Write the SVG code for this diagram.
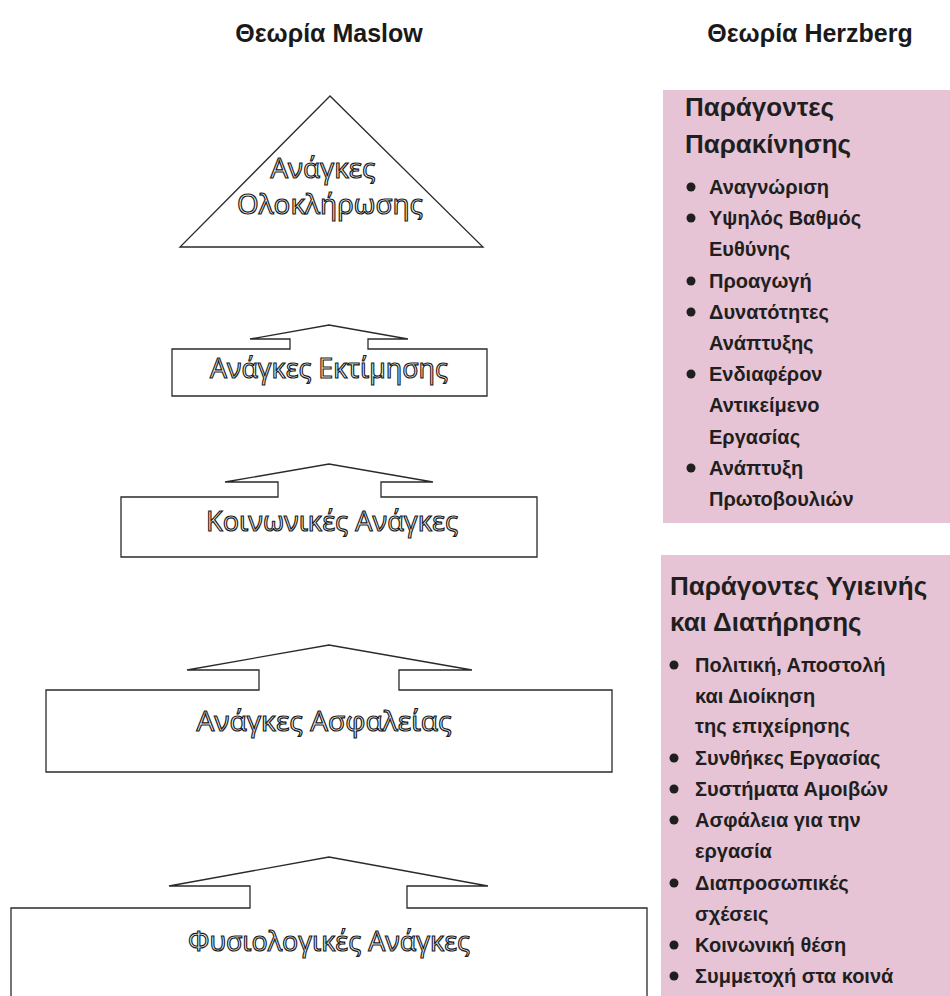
<svg xmlns="http://www.w3.org/2000/svg" width="950" height="996" viewBox="0 0 950 996">
<style>
.shape{fill:#ffffff;stroke:#2a2a2a;stroke-width:1.3;stroke-linejoin:miter}
.ol{font-family:"Open Sans","DejaVu Sans",sans-serif;font-size:28px;fill:#ffffff;stroke:#1a1a1a;stroke-width:1.2;text-anchor:middle}
.hd{font-family:"Liberation Sans",Arial,sans-serif;font-weight:bold;font-size:25px;fill:#1a1a1a;text-anchor:middle}
.pink{fill:#e6c4d5}
.ttl{font-family:"Liberation Sans",Arial,sans-serif;font-weight:bold;font-size:26px;fill:#1f1f1f}
.it{font-family:"Liberation Sans",Arial,sans-serif;font-weight:bold;font-size:20px;fill:#1f1f1f}
.dot{fill:#1f1f1f}
</style>
<rect width="950" height="996" fill="#ffffff"/>
<g id="headings">
<text class="hd" x="329" y="42">Θεωρία Maslow</text>
<text class="hd" x="810" y="42">Θεωρία Herzberg</text>
</g>
<g id="connectors"></g>
<g id="self-actualization">
<path class="shape" d="M330,96 L180,247 H483 Z"/>
<text class="ol" x="323" y="178" textLength="105" lengthAdjust="spacingAndGlyphs">Ανάγκες</text>
<text class="ol" x="330" y="214" textLength="186" lengthAdjust="spacingAndGlyphs">Ολοκλήρωσης</text>
</g>
<g id="esteem">
<path class="shape" d="M172,396 V349 H290 V339 H250 L329,325 L408,339 H368 V349 H487 V396 Z"/>
<text class="ol" x="329" y="378" textLength="238" lengthAdjust="spacingAndGlyphs">Ανάγκες Εκτίμησης</text>
</g>
<g id="social">
<path class="shape" d="M121,557 V497 H278 V482 H225 L329,464 L433,482 H381 V497 H537 V557 Z"/>
<text class="ol" x="332" y="531" textLength="252" lengthAdjust="spacingAndGlyphs">Κοινωνικές Ανάγκες</text>
</g>
<g id="safety">
<path class="shape" d="M46,772 V690 H259 V670 H187 L329,645 L472,670 H399 V690 H612 V772 Z"/>
<text class="ol" x="324" y="731" textLength="255" lengthAdjust="spacingAndGlyphs">Ανάγκες Ασφαλείας</text>
</g>
<g id="physiological">
<path class="shape" d="M11,1010 V908 H250 V886 H169 L329,857 L488,886 H407 V908 H647 V1010 Z"/>
<text class="ol" x="329" y="951" textLength="282" lengthAdjust="spacingAndGlyphs">Φυσιολογικές Ανάγκες</text>
</g>
<g id="motivators">
<rect class="pink" x="663" y="90" width="287" height="433"/>
<text class="ttl" x="685" y="116">Παράγοντες</text>
<text class="ttl" x="685" y="153">Παρακίνησης</text>
<circle class="dot" cx="691" cy="187" r="4.5"/>
<text class="it" x="709" y="194">Αναγνώριση</text>
<circle class="dot" cx="691" cy="218" r="4.5"/>
<text class="it" x="709" y="225">Υψηλός Βαθμός</text>
<text class="it" x="709" y="256">Ευθύνης</text>
<circle class="dot" cx="691" cy="281" r="4.5"/>
<text class="it" x="709" y="288">Προαγωγή</text>
<circle class="dot" cx="691" cy="312" r="4.5"/>
<text class="it" x="709" y="319">Δυνατότητες</text>
<text class="it" x="709" y="350">Ανάπτυξης</text>
<circle class="dot" cx="691" cy="374" r="4.5"/>
<text class="it" x="709" y="381">Ενδιαφέρον</text>
<text class="it" x="709" y="412">Αντικείμενο</text>
<text class="it" x="709" y="444">Εργασίας</text>
<circle class="dot" cx="691" cy="468" r="4.5"/>
<text class="it" x="709" y="475">Ανάπτυξη</text>
<text class="it" x="709" y="506">Πρωτοβουλιών</text>
</g>
<g id="hygiene">
<rect class="pink" x="661" y="555" width="289" height="441"/>
<text class="ttl" x="670" y="595">Παράγοντες Υγιεινής</text>
<text class="ttl" x="670" y="631">και Διατήρησης</text>
<circle class="dot" cx="674" cy="665" r="4.5"/>
<text class="it" x="695" y="672">Πολιτική, Αποστολή</text>
<text class="it" x="695" y="703">και Διοίκηση</text>
<text class="it" x="695" y="733">της επιχείρησης</text>
<circle class="dot" cx="674" cy="758" r="4.5"/>
<text class="it" x="695" y="765">Συνθήκες Εργασίας</text>
<circle class="dot" cx="674" cy="789" r="4.5"/>
<text class="it" x="695" y="796">Συστήματα Αμοιβών</text>
<circle class="dot" cx="674" cy="820" r="4.5"/>
<text class="it" x="695" y="827">Ασφάλεια για την</text>
<text class="it" x="695" y="858">εργασία</text>
<circle class="dot" cx="674" cy="883" r="4.5"/>
<text class="it" x="695" y="890">Διαπροσωπικές</text>
<text class="it" x="695" y="921">σχέσεις</text>
<circle class="dot" cx="674" cy="945" r="4.5"/>
<text class="it" x="695" y="952">Κοινωνική θέση</text>
<circle class="dot" cx="674" cy="976" r="4.5"/>
<text class="it" x="695" y="983">Συμμετοχή στα κοινά</text>
</g>
</svg>
